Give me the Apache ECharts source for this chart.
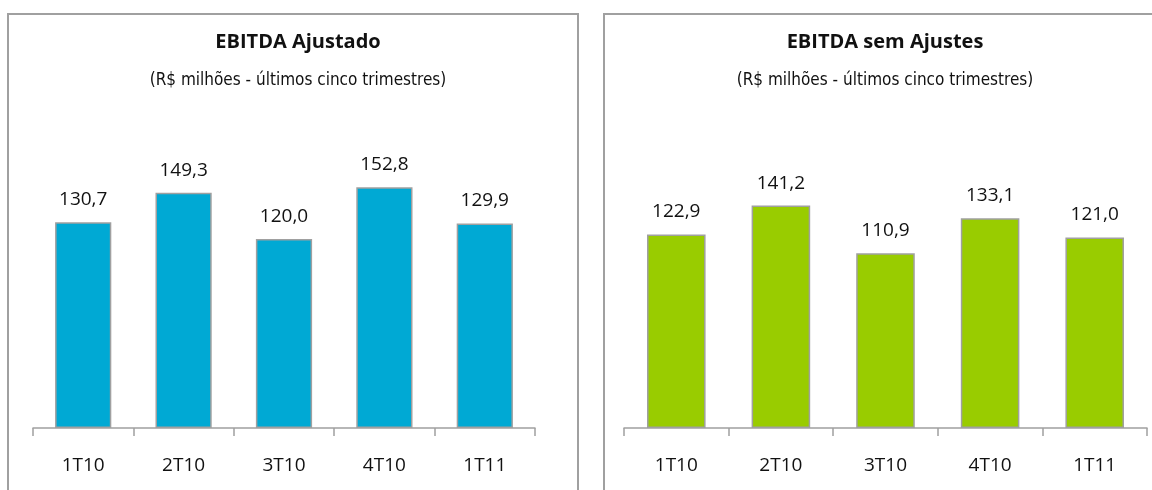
<!DOCTYPE html>
<html>
<head>
<meta charset="utf-8">
<script src="https://cdn.jsdelivr.net/npm/echarts@6/dist/echarts.min.js"></script>
<style>html,body{margin:0;padding:0;background:#fff;}#c{width:1152px;height:490px;}</style>
</head>
<body>
<div id="c"></div>
<script>
const categories = ['1T10', '2T10', '3T10', '4T10', '1T11'];
const ajustado = [130.7, 149.3, 120.0, 152.8, 129.9];
const semAjustes = [122.9, 141.2, 110.9, 133.1, 121.0];
const titles = ['EBITDA Ajustado', 'EBITDA sem Ajustes'];
const subtitle = '(R$ milhões - últimos cinco trimestres)';

const FONT = '"Open Sans", "Noto Sans", sans-serif';
const NARROW = '"DejaVu Sans Condensed", "Open Sans", sans-serif';
const chart = echarts.init(document.getElementById('c'));
const fmt = p => p.value.toFixed(1).replace('.', ',');

function xAxis(i) {
  return {
    type: 'category', gridIndex: i, data: categories,
    axisLine: { lineStyle: { color: '#a0a0a0', width: 1.5 } },
    axisTick: { show: true, length: 8, lineStyle: { color: '#a0a0a0', width: 1.5 } },
    axisLabel: { color: '#111', fontSize: 19, fontFamily: FONT, margin: 28 }
  };
}
function yAxis(i) {
  return { type: 'value', gridIndex: i, min: 0, max: 160, show: false, splitLine: { show: false } };
}
function bar(i, data, color) {
  return {
    type: 'bar', xAxisIndex: i, yAxisIndex: i, data: data, barWidth: '56%',
    itemStyle: { color: color, borderColor: '#a0a0a0', borderWidth: 1.5 },
    label: { show: true, position: 'top', distance: 13, formatter: fmt,
      color: '#111', fontSize: 19, fontFamily: FONT },
    silent: true
  };
}
function title(text, x) {
  return { text: text, subtext: subtitle, left: x, top: 27, textAlign: 'center', itemGap: 20,
    textStyle: { fontSize: 20, fontWeight: 'bold', color: '#111', fontFamily: FONT },
    subtextStyle: { fontSize: 17, color: '#111', fontFamily: NARROW } };
}

chart.setOption({
  animation: false,
  title: [title(titles[0], 293), title(titles[1], 880)],
  graphic: [
    { type: 'rect', shape: { x: 8, y: 14, width: 570, height: 500 }, style: { fill: 'none', stroke: '#a0a0a0', lineWidth: 2 }, z: -1 },
    { type: 'rect', shape: { x: 604, y: 14, width: 560, height: 500 }, style: { fill: 'none', stroke: '#a0a0a0', lineWidth: 2 }, z: -1 }
  ],
  grid: [
    { left: 33, width: 502, top: 176, bottom: 62 },
    { left: 624, width: 523, top: 176, bottom: 62 }
  ],
  xAxis: [xAxis(0), xAxis(1)],
  yAxis: [yAxis(0), yAxis(1)],
  series: [bar(0, ajustado, '#00A9D4'), bar(1, semAjustes, '#99CC00')]
});
</script>
</body>
</html>
